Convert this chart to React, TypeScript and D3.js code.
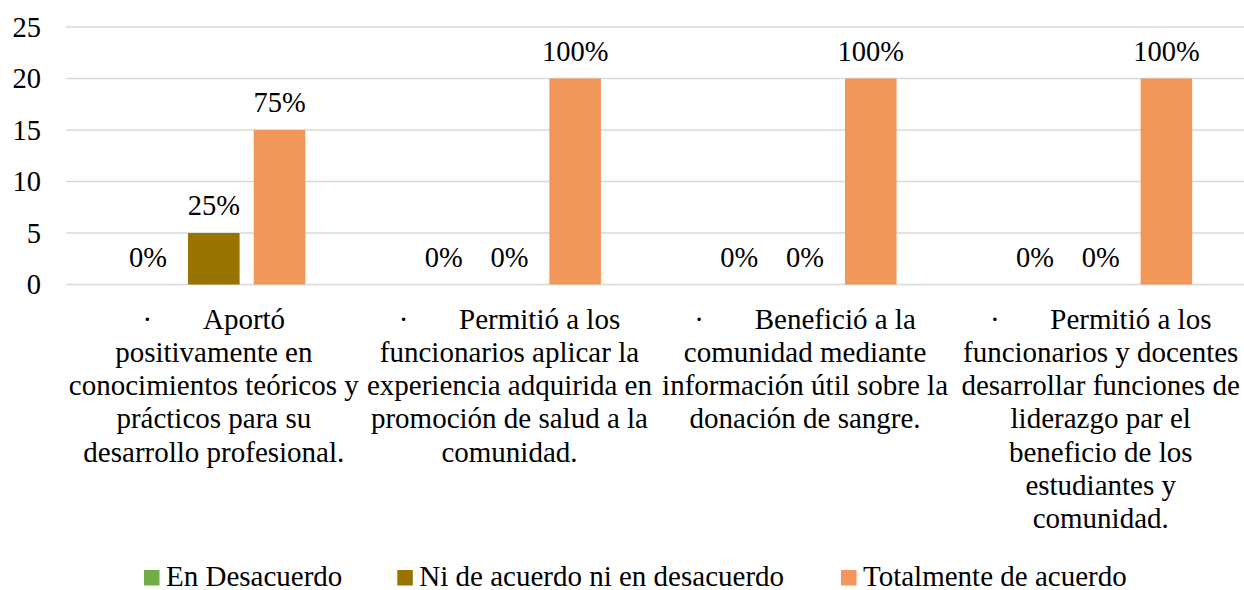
import React from "react";
import * as d3 from "d3";

const categories = [
  "Aportó positivamente en conocimientos teóricos y prácticos para su desarrollo profesional.",
  "Permitió a los funcionarios aplicar la experiencia adquirida en promoción de salud a la comunidad.",
  "Benefició a la comunidad mediante información útil sobre la donación de sangre.",
  "Permitió a los funcionarios y docentes desarrollar funciones de liderazgo par el beneficio de los estudiantes y comunidad.",
];

const categoryLines: string[][] = [
  ["·\u00A0\u00A0\u00A0\u00A0\u00A0\u00A0\u00A0Aportó", "positivamente en", "conocimientos teóricos y", "prácticos para su", "desarrollo profesional."],
  ["·\u00A0\u00A0\u00A0\u00A0\u00A0\u00A0\u00A0Permitió a los", "funcionarios aplicar la", "experiencia adquirida en", "promoción de salud a la", "comunidad."],
  ["·\u00A0\u00A0\u00A0\u00A0\u00A0\u00A0\u00A0Benefició a la", "comunidad mediante", "información útil sobre la", "donación de sangre."],
  ["·\u00A0\u00A0\u00A0\u00A0\u00A0\u00A0\u00A0Permitió a los", "funcionarios y docentes", "desarrollar funciones de", "liderazgo par el", "beneficio de los", "estudiantes y", "comunidad."],
];

const seriesNames = ["En Desacuerdo", "Ni de acuerdo ni en desacuerdo", "Totalmente de acuerdo"];
const seriesColors = ["#70AD47", "#997300", "#F1975A"];

const enDesacuerdo = [0, 0, 0, 0];
const niDeAcuerdo = [5, 0, 0, 0];
const totalmente = [15, 20, 20, 20];

const enDesacuerdoLabels = ["0%", "0%", "0%", "0%"];
const niDeAcuerdoLabels = ["25%", "0%", "0%", "0%"];
const totalmenteLabels = ["75%", "100%", "100%", "100%"];

const yTicks = [0, 5, 10, 15, 20, 25];

const seriesValues = [enDesacuerdo, niDeAcuerdo, totalmente];
const seriesLabels = [enDesacuerdoLabels, niDeAcuerdoLabels, totalmenteLabels];

const W = 1244;
const H = 590;
const FF = "Liberation Serif";
const BASE = 32;

function T(props: { x: number; y: number; size: number; anchor?: string; children: React.ReactNode }) {
  const k = props.size / BASE;
  return (
    <text
      transform={`translate(${props.x},${props.y}) scale(${k})`}
      textAnchor={props.anchor || "start"}
      fill="#000"
      style={{ fontFamily: FF, fontSize: BASE }}
    >
      {props.children}
    </text>
  );
}

export default function App() {
  const x0 = d3.scaleBand<number>().domain(d3.range(categories.length)).range([66, 1248.5]).padding(0);
  const x1 = d3
    .scaleBand<number>()
    .domain(d3.range(seriesNames.length))
    .range([0, x0.bandwidth()])
    .paddingInner(0.215)
    .paddingOuter(0.857);
  const y = d3.scaleLinear().domain([0, 25]).range([284.5, 27]);

  const legendX = [144, 397.3, 841];
  const catSize = 29;
  const catK = catSize / BASE;
  const lineH = 33.3;

  return (
    <svg width={W} height={H} style={{ position: "absolute", left: 0, top: 0 }}>
      <rect width={W} height={H} fill="#fff" />
      {yTicks.map((t) => (
        <g key={t}>
          <line x1={66} x2={1248.5} y1={y(t)} y2={y(t)} stroke="#D9D9D9" strokeWidth={1.6} />
          <T x={41} y={y(t) + 9.7} size={28.5} anchor="end">
            {t}
          </T>
        </g>
      ))}
      {categories.map((c, ci) => (
        <g key={c} transform={`translate(${x0(ci)},0)`}>
          {seriesValues.map((vals, si) => {
            const v = vals[ci];
            const bx = x1(si)!;
            return (
              <g key={si}>
                {v > 0 && (
                  <rect x={bx} y={y(v)} width={x1.bandwidth()} height={y(0) - y(v)} fill={seriesColors[si]} />
                )}
                <T x={bx + x1.bandwidth() / 2} y={y(v) - 18} size={28.5} anchor="middle">
                  {seriesLabels[si][ci]}
                </T>
              </g>
            );
          })}
          <text
            transform={`translate(${x0.bandwidth() / 2},328.5) scale(${catK})`}
            textAnchor="middle"
            fill="#000"
            style={{ fontFamily: FF, fontSize: BASE }}
          >
            {categoryLines[ci].map((ln, li) => (
              <tspan key={li} x={0} y={(li * lineH) / catK}>
                {ln}
              </tspan>
            ))}
          </text>
        </g>
      ))}
      {seriesNames.map((s, i) => (
        <g key={s}>
          <rect x={legendX[i]} y={570} width={15.5} height={15.5} fill={seriesColors[i]} />
          <T x={legendX[i] + 22} y={586} size={29}>
            {s}
          </T>
        </g>
      ))}
    </svg>
  );
}
